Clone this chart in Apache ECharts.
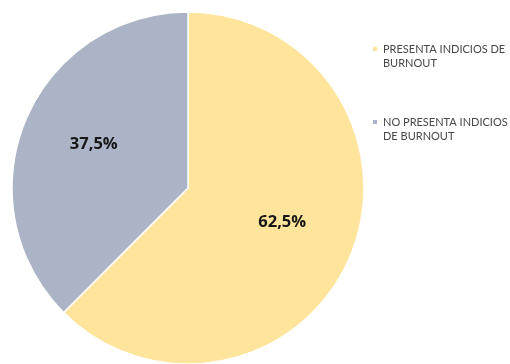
<!DOCTYPE html>
<html>
<head>
<meta charset="utf-8">
<script src="https://cdn.jsdelivr.net/npm/echarts@6/dist/echarts.min.js"></script>
<style>html,body{margin:0;padding:0;background:#fff}#c{width:510px;height:364px}</style>
</head>
<body>
<div id="c"></div>
<script>
const categories = ['PRESENTA INDICIOS DE BURNOUT', 'NO PRESENTA INDICIOS DE BURNOUT'];
const legendLabels = ['PRESENTA INDICIOS DE\nBURNOUT', 'NO PRESENTA INDICIOS\nDE BURNOUT'];
const values = [62.5, 37.5];
const colors = ['#FFE49B', '#AAB4C6'];

const chart = echarts.init(document.getElementById('c'), null, {renderer: 'canvas'});
const data = categories.map((n, i) => ({name: n, value: values[i], itemStyle: {color: colors[i]}}));
const labelData = categories.map((n, i) => ({name: n, value: values[i]}));
chart.setOption({
  animation: false,
  legend: {
    orient: 'vertical',
    left: 366,
    top: 37,
    itemGap: 45,
    itemWidth: 6,
    itemHeight: 20,
    icon: 'path://M0,0h6v6h-6zM0,20',
    data: categories,
    formatter: function (name) { return legendLabels[categories.indexOf(name)]; },
    textStyle: {fontFamily: 'Lato', fontSize: 11, color: '#474747', lineHeight: 14}
  },
  series: [
    {
      type: 'pie',
      center: [188, 188],
      radius: [0, 176],
      startAngle: 90,
      clockwise: true,
      label: {show: false},
      labelLine: {show: false},
      itemStyle: {borderColor: '#ffffff', borderWidth: 1.5},
      emphasis: {disabled: true},
      data: data
    },
    {
      type: 'pie',
      center: [188, 183],
      radius: [22, 176],
      startAngle: 90,
      clockwise: true,
      silent: true,
      itemStyle: {color: 'rgba(0,0,0,0)'},
      label: {
        show: true,
        position: 'inside',
        formatter: function (p) { return String(p.value).replace('.', ',') + '%'; },
        fontFamily: 'Open Sans',
        fontWeight: 'bold',
        fontSize: 16.5,
        color: '#161616'
      },
      labelLine: {show: false},
      emphasis: {disabled: true},
      data: labelData
    }
  ]
});
</script>
</body>
</html>
